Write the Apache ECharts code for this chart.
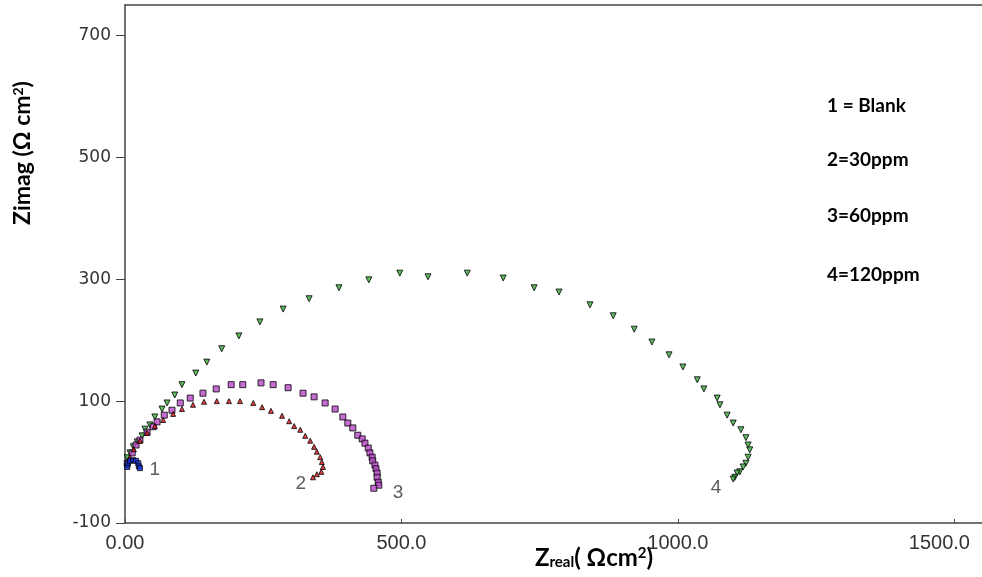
<!DOCTYPE html>
<html>
<head>
<meta charset="utf-8">
<script src="https://cdn.jsdelivr.net/npm/echarts@6/dist/echarts.min.js"></script>
<style>
html,body{margin:0;padding:0;background:#fff}
#main{width:982px;height:577px}
</style>
</head>
<body>
<div id="main"></div>
<script>
// Nyquist points [Zreal, Zimag]
var blank = [[4,-8],[5,-2],[9,2],[15,3],[20,2],[24,-2],[25,-7],[27,-10]];
var ppm30 = [[4,-5],[9,8],[16,21],[27,35],[40,48],[54,59],[69,69],[87,79],[103,87],[123,94],[143,99],[166,100],[188,100],[208,100],[232,97],[248,90],[264,84],[284,76],[297,67],[306,59],[317,53],[326,43],[335,35],[342,25],[347,17],[353,8],[356,0],[358,-8],[355,-16],[347,-20],[340,-25]];
var ppm60 = [[4,-2],[13,15],[20,28],[27,36],[40,49],[51,58],[58,66],[71,77],[85,85],[100,97],[118,105],[141,113],[165,120],[192,127],[213,127],[246,130],[268,127],[295,122],[322,113],[342,107],[362,97],[380,87],[394,74],[403,64],[412,56],[421,44],[429,38],[434,31],[440,23],[443,15],[447,8],[448,2],[452,-5],[454,-11],[456,-18],[456,-25],[458,-33],[459,-38],[450,-43]];
var ppm120 = [[4,7],[9,15],[15,25],[22,33],[31,43],[36,54],[45,61],[54,74],[67,87],[76,97],[90,110],[103,127],[128,146],[148,164],[175,186],[206,207],[244,230],[286,251],[333,268],[387,286],[441,299],[497,310],[548,304],[619,310],[684,302],[740,286],[785,279],[841,258],[883,240],[921,218],[953,197],[984,176],[1009,156],[1035,135],[1047,120],[1071,105],[1076,94],[1089,77],[1100,64],[1114,53],[1123,40],[1127,28],[1130,20],[1127,8],[1123,-2],[1118,-8],[1112,-16],[1107,-18],[1103,-25],[1100,-28]];
var curveLabels = [{name:'1',value:[54,-13]},{name:'2',value:[318,-36]},{name:'3',value:[494,-51]},{name:'4',value:[1069,-43]}];
var xTicks = [0,500,1000,1500];
var yTicks = [-100,100,300,500,700];
var legendLines = ['1 = Blank','2=30ppm','3=60ppm','4=120ppm'];

var myChart = echarts.init(document.getElementById('main'));

var dark = '#333';
var boldFont = 'Lato, "Open Sans", sans-serif';

function pts(name, data, symbol, size, color, rotate) {
  return {
    name: name, type: 'scatter', data: data,
    symbol: symbol, symbolSize: size, symbolRotate: rotate || 0,
    itemStyle: {color: color, borderColor: '#000', borderWidth: 1},
    silent: true
  };
}

var legendGraphics = legendLines.map(function (t, i) {
  return {
    type: 'text', left: 827, top: [96, 150, 206, 265][i],
    style: {text: t, fill: '#000', font: 'bold 19px ' + boldFont}
  };
});

option = {
  animation: false,
  backgroundColor: '#fff',
  grid: {left: 125, top: 5, right: 0, bottom: 54, outerBoundsMode: 'none'},
  xAxis: [{
    type: 'value', min: 0, max: 1550,
    axisLine: {onZero: false, lineStyle: {color: '#444', width: 1.5}},
    axisTick: {inside: true, length: 4, customValues: xTicks, lineStyle: {color: '#444'}},
    axisLabel: {
      customValues: xTicks, margin: 10,
      color: dark, fontSize: 20, fontFamily: '"Liberation Sans Narrow", "Liberation Sans", sans-serif',
      formatter: function (v) {
        if (v === 0) return '0.00';
        if (v === 1500) return '{r|1500.0}';
        return v.toFixed(1);
      },
      rich: {r: {fontSize: 20, color: dark, padding: [0, 30, 0, 0]}}
    },
    splitLine: {show: false}
  }, {
    type: 'value', position: 'top', min: 0, max: 1550,
    axisLine: {show: true, onZero: false, lineStyle: {color: '#444', width: 1.5}},
    axisTick: {show: false}, axisLabel: {show: false}, splitLine: {show: false}
  }],
  yAxis: {
    type: 'value', min: -100, max: 750,
    axisLine: {show: true, onZero: false, lineStyle: {color: '#444', width: 1.5}},
    axisTick: {show: true, length: 9, customValues: yTicks, lineStyle: {color: '#444'}},
    axisLabel: {
      customValues: yTicks, margin: 14,
      color: dark, fontSize: 17, fontFamily: '"DejaVu Sans", sans-serif'
    },
    splitLine: {show: false}
  },
  graphic: [{
    type: 'text', x: 23, y: 153, rotation: Math.PI / 2,
    style: {
      text: '{b|Zimag (Ω cm}{p|2}{b|)}',
      align: 'center', verticalAlign: 'middle',
      rich: {
        b: {fontSize: 23, fontWeight: 'bold', fontFamily: boldFont, fill: '#000'},
        p: {fontSize: 14, fontWeight: 'bold', fontFamily: boldFont, fill: '#000', verticalAlign: 'top'}
      }
    }
  }, {
    type: 'text', x: 594, y: 558,
    style: {
      text: '{b|Z}{s|real}{b|( Ωcm}{p|2}{b|)}',
      align: 'center', verticalAlign: 'middle',
      rich: {
        b: {fontSize: 24, fontWeight: 'bold', fontFamily: boldFont, fill: '#000'},
        s: {fontSize: 15, fontWeight: 'bold', fontFamily: boldFont, fill: '#000', verticalAlign: 'bottom'},
        p: {fontSize: 15, fontWeight: 'bold', fontFamily: boldFont, fill: '#000', verticalAlign: 'top'}
      }
    }
  }].concat(legendGraphics),
  series: [
    pts('120ppm', ppm120, 'triangle', 6, '#3aa83a', 180),
    pts('60ppm', ppm60, 'rect', 6, '#b847c8'),
    pts('30ppm', ppm30, 'triangle', 5, '#e01010'),
    pts('Blank', blank, 'rect', 5, '#1030e0'),
    {
      type: 'scatter', data: curveLabels, symbolSize: 0, silent: true,
      label: {
        show: true, formatter: '{b}', position: 'inside',
        color: dark, fontSize: 19, fontFamily: '"Liberation Sans", sans-serif'
      }
    }
  ]
};

myChart.setOption(option);
window.addEventListener("resize", function () {
  myChart.resize();
});
</script>
</body>
</html>
